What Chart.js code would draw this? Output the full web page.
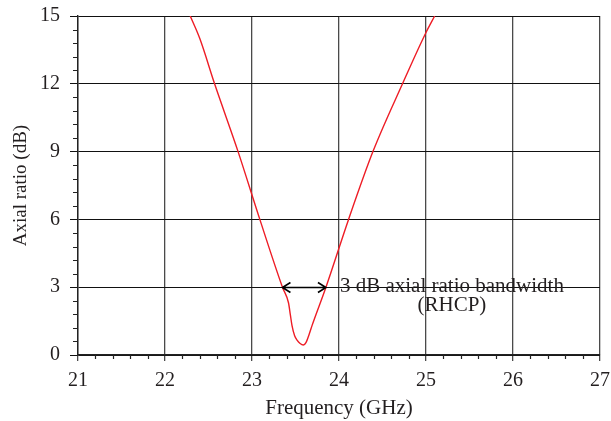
<!DOCTYPE html>
<html>
<head>
<meta charset="utf-8">
<script src="https://cdn.jsdelivr.net/npm/chart.js@4/dist/chart.umd.min.js"></script>
<style>
  html, body { margin: 0; padding: 0; background: #fff; }
  #wrap { width: 611px; height: 421px; position: relative; }
</style>
</head>
<body>
<div id="wrap"><canvas id="chart"></canvas></div>
<script>
// Measured axial ratio versus frequency
const freqGHz = [22.29, 22.40, 22.57, 22.84, 23.09, 23.35, 23.42, 23.44, 23.46, 23.49, 23.52, 23.55, 23.59, 23.62, 23.66, 23.69, 23.85, 24.11, 24.39, 24.73, 25.00, 25.10];
const axialRatioDb = [15.0, 14.0, 12.0, 9.0, 6.0, 3.0, 2.3, 1.8, 1.3, 0.85, 0.65, 0.52, 0.44, 0.55, 0.95, 1.3, 3.0, 6.0, 9.0, 12.0, 14.27, 15.0];

// Axis ranges and tick spacing
const xRange = [21, 27];
const xStep = 1;
const xMinorStep = 0.2;
const yRange = [0, 15];
const yStep = 3;
const yMinorStep = 0.6;

// 3 dB bandwidth marker
const bandEdges = [23.35, 23.85];
const bandLevel = 3;
const bandLabel = ['3 dB axial ratio bandwidth', '(RHCP)'];

const SERIF = "'Liberation Serif', 'DejaVu Serif', serif";
const INK = '#231f20';

// Short outward minor tick marks on both axes
const minorTicks = {
  id: 'minorTicks',
  afterDraw(chart) {
    const { ctx, chartArea, scales: { x, y } } = chart;
    ctx.save();
    ctx.strokeStyle = '#222';
    ctx.lineWidth = 1.2;
    ctx.beginPath();
    const nx = Math.round((xRange[1] - xRange[0]) / xMinorStep);
    for (let i = 0; i <= nx; i++) {
      const v = xRange[0] + i * xMinorStep;
      if (Math.abs(v - Math.round(v)) < 1e-6) continue;
      const px = Math.round(x.getPixelForValue(v)) + 0.5;
      ctx.moveTo(px, chartArea.bottom);
      ctx.lineTo(px, chartArea.bottom + 4);
    }
    const ny = Math.round((yRange[1] - yRange[0]) / yMinorStep);
    for (let i = 0; i <= ny; i++) {
      const v = yRange[0] + i * yMinorStep;
      if (Math.abs(v / yStep - Math.round(v / yStep)) < 1e-6) continue;
      const py = Math.round(y.getPixelForValue(v)) + 0.5;
      ctx.moveTo(chartArea.left, py);
      ctx.lineTo(chartArea.left - 5, py);
    }
    ctx.stroke();
    ctx.restore();
  }
};

// Double-headed arrow across the 3 dB band with its caption
const bandMarker = {
  id: 'bandMarker',
  afterDatasetsDraw(chart) {
    const { ctx, scales: { x, y } } = chart;
    const x0 = x.getPixelForValue(bandEdges[0]);
    const x1 = x.getPixelForValue(bandEdges[1]);
    const py = Math.round(y.getPixelForValue(bandLevel)) + 0.5;
    const head = 8, spread = 5;
    ctx.save();
    ctx.strokeStyle = '#000';
    ctx.lineWidth = 1.6;
    ctx.beginPath();
    ctx.moveTo(x0, py); ctx.lineTo(x1, py);
    ctx.moveTo(x0 + head, py - spread); ctx.lineTo(x0, py); ctx.lineTo(x0 + head, py + spread);
    ctx.moveTo(x1 - head, py - spread); ctx.lineTo(x1, py); ctx.lineTo(x1 - head, py + spread);
    ctx.stroke();

    ctx.font = '21px ' + SERIF;
    ctx.fillStyle = INK;
    ctx.textBaseline = 'alphabetic';
    const tx = x1 + 14;
    const w = ctx.measureText(bandLabel[0]).width;
    ctx.textAlign = 'left';
    ctx.fillText(bandLabel[0], tx, py + 4);
    ctx.textAlign = 'center';
    ctx.fillText(bandLabel[1], tx + w / 2, py + 23);
    ctx.restore();
  }
};

new Chart(document.getElementById('chart'), {
  type: 'line',
  data: {
    datasets: [{
      data: freqGHz.map((f, i) => ({ x: f, y: axialRatioDb[i] })),
      borderColor: '#ee1c25',
      borderWidth: 1.4,
      pointRadius: 0,
      fill: false,
      cubicInterpolationMode: 'monotone'
    }]
  },
  options: {
    responsive: true,
    maintainAspectRatio: false,
    animation: false,
    events: [],
    layout: { padding: { top: 16, right: 11, left: 0, bottom: 0 } },
    plugins: { legend: { display: false }, tooltip: { enabled: false } },
    scales: {
      x: {
        type: 'linear',
        min: xRange[0], max: xRange[1],
        afterFit(scale) { scale.height = 66; scale.paddingLeft = 0; scale.paddingRight = 0; },
        ticks: { stepSize: xStep, color: INK, font: { family: SERIF, size: 20 }, padding: 8, maxRotation: 0 },
        grid: { color: '#4a4a4a', lineWidth: 1.3, tickLength: 6, drawTicks: true },
        border: { display: true, color: '#222', width: 1.4 },
        title: { display: true, text: 'Frequency (GHz)', color: INK, font: { family: SERIF, size: 21 }, padding: { top: 0, bottom: 0 } }
      },
      y: {
        type: 'linear',
        min: yRange[0], max: yRange[1],
        afterFit(scale) { scale.width = 78; scale.paddingTop = 0; scale.paddingBottom = 0; },
        ticks: { stepSize: yStep, color: INK, font: { family: SERIF, size: 20 }, padding: 10 },
        grid: { color: '#111', lineWidth: 1, tickLength: 8, drawTicks: true },
        border: { display: true, color: '#222', width: 1.4 },
        title: { display: true, text: 'Axial ratio (dB)', color: INK, font: { family: SERIF, size: 19 }, padding: { top: 10, bottom: 0 } }
      }
    }
  },
  plugins: [minorTicks, bandMarker]
});
</script>
</body>
</html>
